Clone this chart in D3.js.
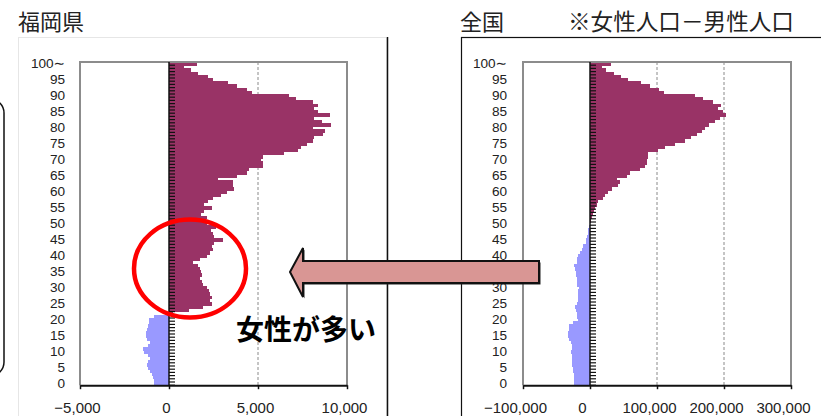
<!DOCTYPE html>
<html>
<head>
<meta charset="utf-8">
<script src="https://cdn.jsdelivr.net/npm/d3@7"></script>
<style>
body { margin: 0; background: #fff; }
svg { display: block; font-family: "Noto Sans CJK JP", "Noto Sans", sans-serif; }
</style>
</head>
<body>
<svg id="chart" width="821" height="416"></svg>
<script>
// ages 0..100 (100 = "100〜")
var ages = d3.range(0, 101);
var labelAges = [0, 5, 10, 15, 20, 25, 30, 35, 40, 45, 50, 55, 60, 65, 70, 75, 80, 85, 90, 95, 100];

// female - male, Fukuoka prefecture, index = age
var fukuokaDiff = [
    -850, -840, -880, -970, -1070, -1200, -1250, -1160, -1070, -1160,
    -1390, -1440, -1160, -1070, -1250, -1310, -1290, -1250, -1160, -1120,
    -1120, -820, 200, 1150, 1900, 2400, 2300, 2400, 2300, 2270,
    2120, 1930, 1840, 1740, 1840, 1780, 1740, 1650, 1370, 1740,
    2120, 2300, 2490, 2400, 2550, 3050, 2500, 2490, 2360, 2640,
    2120, 2100, 2120, 1800, 1970, 2400, 1970, 2170, 2490, 2920,
    3240, 3670, 3620, 3580, 2740, 3840, 4400, 4500, 5260, 5260,
    5170, 5260, 6460, 7230, 7400, 7740, 8110, 8170, 8670, 8770,
    8110, 9100, 8620, 8170, 9050, 8390, 8170, 8390, 8110, 7140,
    6760, 4650, 4380, 3840, 3300, 2490, 2180, 1650, 1220, 860,
    1590
];

// female - male, all Japan, index = age
var zenkokuDiff = [
    -23400, -23400, -23900, -23900, -24900, -24900, -26400, -26400, -27400, -27400,
    -28400, -27400, -27400, -28400, -31300, -32300, -32300, -31300, -31300, -24900,
    -18400, -19900, -19900, -21400, -22400, -19900, -18400, -18400, -17400, -17400,
    -16400, -18900, -18900, -19900, -21400, -21400, -22400, -23400, -19900, -19900,
    -17400, -14900, -12400, -10000, -6000, -6000, -5000, -3500, -2500, -1000,
    -500, 1000, 2500, 4000, 6500, 7500, 9900, 12400, 19900, 22400,
    27400, 32300, 42300, 44800, 39800, 54700, 60000, 74600, 82100, 84600,
    85000, 86000, 86600, 101500, 111900, 126900, 142000, 150000, 160000, 167000,
    172000, 178000, 187000, 194000, 203000, 199000, 191000, 196000, 184000, 168000,
    157000, 111000, 103000, 90000, 76000, 57000, 47000, 36000, 24000, 18000,
    32000
];

var fukuokaTicks = [-5000, 0, 5000, 10000];
var zenkokuTicks = [-100000, 0, 100000, 200000, 300000];

var numFont = "Liberation Sans, DejaVu Sans, sans-serif";
var svg = d3.select("#chart");

// panel frames
svg.append("rect")
    .attr("x", -200).attr("y", 99).attr("width", 204).attr("height", 277)
    .attr("rx", 14).attr("fill", "#fff").attr("stroke", "#111").attr("stroke-width", 1.5);
svg.append("rect")
    .attr("x", 18.5).attr("y", 37.5).attr("width", 368).attr("height", 400)
    .attr("fill", "none").attr("stroke", "#e6e6e6");
svg.append("line")
    .attr("x1", 387.5).attr("x2", 387.5).attr("y1", 37).attr("y2", 416)
    .attr("stroke", "#111").attr("stroke-width", 1.5);
svg.append("rect")
    .attr("x", 461.5).attr("y", 37.5).attr("width", 400).attr("height", 400)
    .attr("fill", "none").attr("stroke", "#111").attr("stroke-width", 1.2);

var drawPanel = function(opts) {
    var values = opts.values;
    var g = svg.append("g");

    var x = d3.scaleLinear()
        .domain([opts.ticks[0], opts.ticks[opts.ticks.length - 1]])
        .range([opts.left, opts.right]);

    var y = d3.scaleBand()
        .domain(ages.slice().reverse())
        .range([opts.top, opts.bottom])
        .padding(0);

    // dashed grid lines (behind bars)
    g.selectAll(".grid")
        .data(opts.ticks.slice(1, -1).filter(function(d) { return d !== 0; }))
        .enter().append("line")
        .attr("x1", function(d) { return x(d); })
        .attr("x2", function(d) { return x(d); })
        .attr("y1", opts.top)
        .attr("y2", opts.bottom)
        .attr("stroke", "#8a8a8a")
        .attr("stroke-dasharray", "3,2");

    g.append("g")
        .attr("shape-rendering", "crispEdges")
        .selectAll("rect")
        .data(ages)
        .enter().append("rect")
        .attr("x", function(d) { return x(Math.min(0, values[d])); })
        .attr("y", function(d) { return y(d); })
        .attr("width", function(d) { return Math.abs(x(values[d]) - x(0)); })
        .attr("height", y.bandwidth() + 0.5)
        .attr("fill", function(d) { return values[d] >= 0 ? "#993366" : "#9999ff"; });

    // plot frame (grey top/left/right)
    g.append("path")
        .attr("d", "M" + opts.left + "," + opts.bottom + "V" + opts.top + "H" + opts.right + "V" + opts.bottom)
        .attr("fill", "none")
        .attr("stroke", "#8c8c8c")
        .attr("stroke-width", 2);

    // zero axis with a tick at every age boundary
    g.append("line")
        .attr("x1", x(0)).attr("x2", x(0))
        .attr("y1", opts.top).attr("y2", opts.bottom)
        .attr("stroke", "#111").attr("stroke-width", 1.5);
    g.selectAll(".atick")
        .data(ages)
        .enter().append("line")
        .attr("x1", x(0))
        .attr("x2", x(0) + 6)
        .attr("y1", function(d) { return y(d) + y.bandwidth(); })
        .attr("y2", function(d) { return y(d) + y.bandwidth(); })
        .attr("stroke", "#111")
        .attr("stroke-width", 1.2);

    // age labels
    var yAxis = d3.axisLeft(y)
        .tickValues(labelAges)
        .tickSize(0)
        .tickPadding(0)
        .tickFormat(function(d) { return d === 100 ? "100∼" : d; });
    var ya = g.append("g")
        .attr("transform", "translate(" + opts.labelX + ",0)")
        .call(yAxis);
    ya.select(".domain").remove();
    ya.selectAll("text")
        .attr("font-size", 13.6)
        .attr("fill", "#222")
        .attr("font-family", numFont);

    // value axis
    var xAxis = d3.axisBottom(x)
        .tickValues(opts.ticks)
        .tickSize(4)
        .tickSizeOuter(0)
        .tickPadding(13)
        .tickFormat(d3.format(","));
    var xa = g.append("g")
        .attr("transform", "translate(0," + opts.bottom + ")")
        .call(xAxis);
    xa.select(".domain").attr("stroke", "#111").attr("stroke-width", 2);
    xa.selectAll(".tick line").attr("stroke", "#111").attr("stroke-width", 1.5);
    xa.selectAll("text")
        .attr("font-size", 15)
        .attr("fill", "#222")
        .attr("dx", opts.labelShift)
        .attr("font-family", numFont);
};

drawPanel({
    values: fukuokaDiff,
    ticks: fukuokaTicks,
    left: 80, right: 347, top: 62, bottom: 385.2,
    labelX: 65, labelShift: -3
});

drawPanel({
    values: zenkokuDiff,
    ticks: zenkokuTicks,
    left: 523, right: 791, top: 62, bottom: 385.2,
    labelX: 507, labelShift: -8
});

// titles
svg.append("text").attr("x", 18).attr("y", 30)
    .attr("font-size", 22).attr("fill", "#222").text("福岡県");
svg.append("text").attr("x", 460).attr("y", 30)
    .attr("font-size", 22).attr("fill", "#222").text("全国");
svg.append("text").attr("x", 568).attr("y", 30)
    .attr("font-size", 22.6).attr("fill", "#222").text("※女性人口－男性人口");

// annotation: red ellipse
svg.append("ellipse")
    .attr("cx", 190).attr("cy", 268.5).attr("rx", 56).attr("ry", 49)
    .attr("fill", "none").attr("stroke", "#ff0000").attr("stroke-width", 4.5);

// annotation: arrow pointing left
var arrowPts = [[290, 272], [303, 248], [303, 261], [539, 261], [539, 283], [303, 283], [303, 297]];
svg.append("polygon")
    .attr("points", arrowPts.map(function(p) { return (p[0] + 1.5) + "," + (p[1] + 1.5); }).join(" "))
    .attr("fill", "#222");
svg.append("polygon")
    .attr("points", arrowPts.map(function(p) { return p.join(","); }).join(" "))
    .attr("fill", "#d99694").attr("stroke", "#111").attr("stroke-width", 2)
    .attr("stroke-linejoin", "miter");

svg.append("text").attr("x", 236).attr("y", 340)
    .attr("font-size", 28).attr("font-weight", "bold").attr("fill", "#000")
    .text("女性が多い");
</script>
</body>
</html>
